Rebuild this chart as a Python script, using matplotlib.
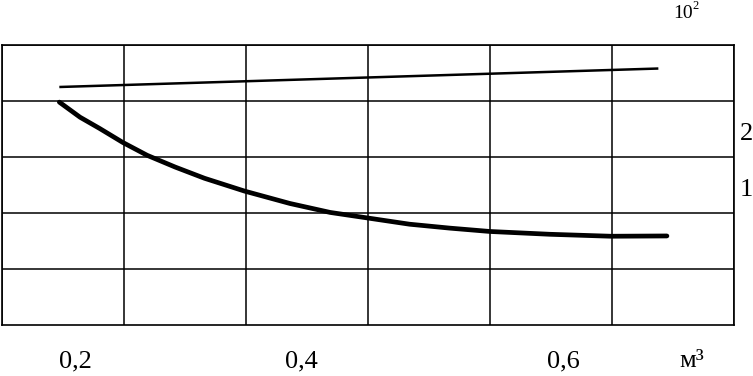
import numpy as np
import matplotlib.pyplot as plt

plt.rcParams['font.family'] = ['Liberation Serif', 'DejaVu Serif']

# upper straight line (x in m^3, y in 10^2 units)
line_x = [0.187, 0.678]
line_y = [2.79, 3.12]

# lower curve
curve_x = [0.187, 0.204, 0.220, 0.239, 0.259, 0.282, 0.306, 0.339, 0.376,
           0.409, 0.440, 0.474, 0.507, 0.540, 0.589, 0.639, 0.685]
curve_y = [2.52, 2.25, 2.05, 1.80, 1.57, 1.36, 1.16, 0.93, 0.71,
           0.55, 0.45, 0.34, 0.27, 0.21, 0.16, 0.125, 0.13]

xtick_pos = [0.2, 0.385, 0.6, 0.705]
xtick_lab = ['0,2', '0,4', '0,6', 'м³']
ytick_pos = [1, 2]
ytick_lab = ['1', '2']

grid_x = np.arange(0.14, 0.75, 0.1)
grid_y = np.arange(-0.46, 3.6, 1.0)

fig = plt.figure(figsize=(7.53, 3.76), dpi=100)
ax = fig.add_axes([2 / 753, 51 / 376, 732 / 753, 280 / 376])

ax.plot(line_x, line_y, color='black', lw=1.8, solid_capstyle='butt')
ax.plot(curve_x, curve_y, color='black', lw=3.4,
        solid_capstyle='round', solid_joinstyle='round')

ax.set_xlim(0.14, 0.74)
ax.set_ylim(-1.46, 3.54)

ax.set_xticks(grid_x, minor=True)
ax.set_yticks(grid_y, minor=True)
ax.grid(which='minor', color='black', lw=1.1)
ax.tick_params(which='minor', length=0)

ax.set_xticks(xtick_pos)
ax.set_xticklabels(xtick_lab, fontsize=19)
ax.yaxis.tick_right()
ax.set_yticks(ytick_pos)
ax.set_yticklabels(ytick_lab, fontsize=19)
ax.tick_params(which='major', length=0)
ax.tick_params(axis='x', pad=18)
ax.tick_params(axis='y', pad=4)

for s in ax.spines.values():
    s.set_linewidth(1.2)

# multiplier 10^2 above the right edge
fig.text(683 / 753, 1 - 14 / 376, '10', fontsize=14, ha='center', va='center')
fig.text(696 / 753, 1 - 6 / 376, '2', fontsize=9, ha='center', va='center')

fig.savefig('out.png', dpi=100)
